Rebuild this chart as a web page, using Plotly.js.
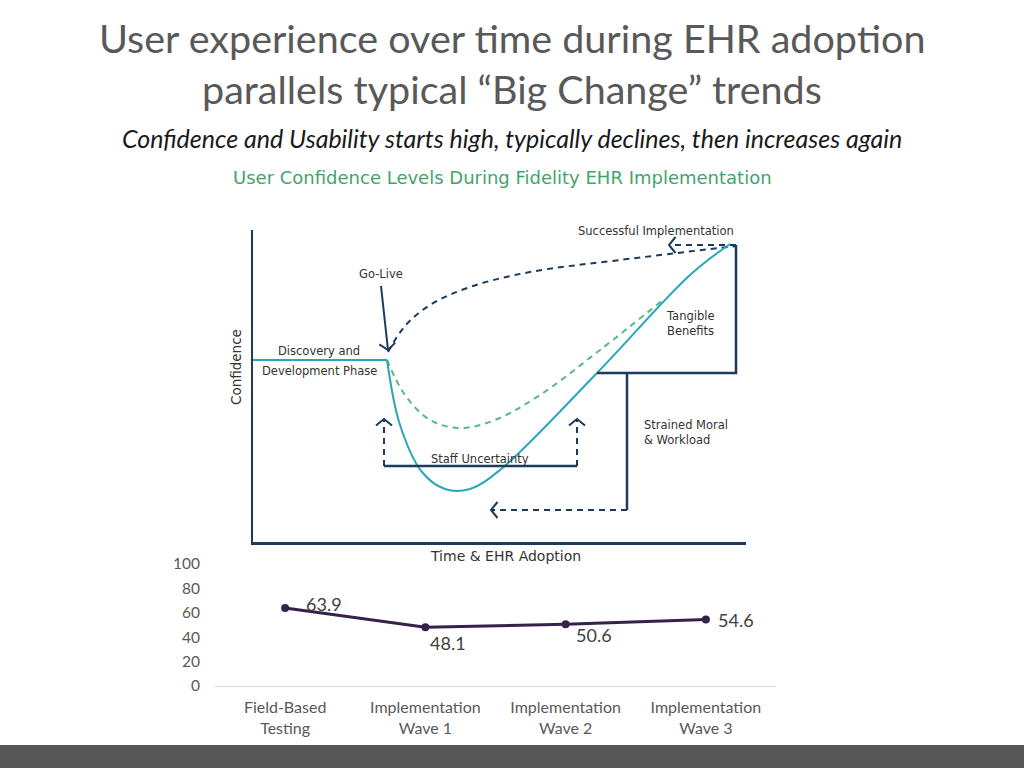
<!DOCTYPE html>
<html>
<head>
<meta charset="utf-8">
<script src="https://cdn.plot.ly/plotly-3.0.1.min.js"></script>
<style>
  html, body { margin: 0; padding: 0; background: #fff; }
  #chart { width: 1024px; height: 768px; }
</style>
</head>
<body>
<div id="chart"></div>
<script>
// Survey scores (bottom chart)
var categories = ["Field-Based Testing", "Implementation Wave 1", "Implementation Wave 2", "Implementation Wave 3"];
var scores = [63.9, 48.1, 50.6, 54.6];
var yTicks = [0, 20, 40, 60, 80, 100];

// Concept diagram curves (time units x, confidence units y)
var discoveryX = [0, 134];
var discoveryY = [182, 182];
var actualX = [134, 147, 169, 192, 217, 247, 344, 437, 477];
var actualY = [182, 117, 70, 53, 53, 72, 169, 267, 298];
var typicalX = [134, 152, 177, 207, 242, 287, 347, 410];
var typicalY = [182, 147, 122, 114, 122, 147, 192, 242];
var idealX = [135, 152, 177, 217, 277, 367, 483];
var idealY = [190, 216, 237, 255, 270, 282, 296];

var navy = "#1c3a5e", teal = "#2aa7b6", green = "#52bb80";

// arrows: [x0, y0, x1, y1, dashed]
var arrows = [
  [483, 297, 416, 297, true],
  [128, 256, 135, 192, false],
  [131, 76, 131, 123, true],
  [324, 76, 324, 123, true],
  [374, 32, 238, 32, true]
];
// plain solid connectors
var connectors = [
  [[131, 324], [76, 76]],
  [[344, 483, 483], [169, 169, 297]],
  [[374, 374], [169, 32]]
];

var traces = [];
function addLine(xs, ys, color, dash, width) {
  traces.push({x: xs, y: ys, xaxis: "x2", yaxis: "y2", mode: "lines", hoverinfo: "skip",
    line: {color: color, width: width || 2, dash: dash || "solid",
      shape: xs.length > 3 ? "spline" : "linear", smoothing: 1},
    cliponaxis: false});
}

addLine(discoveryX, discoveryY, teal);
addLine(idealX, idealY, navy, "6px,5px");
addLine(typicalX, typicalY, green, "6px,5px");
addLine(actualX, actualY, teal);

arrows.forEach(function (a) {
  addLine([a[0], a[2]], [a[1], a[3]], navy, a[4] ? "6px,5px" : "solid");
  var dx = a[2] - a[0], dy = a[3] - a[1], len = Math.sqrt(dx * dx + dy * dy);
  var ux = dx / len, uy = dy / len, back = 6.5, side = 8;
  addLine([a[2] - back * ux - side * uy, a[2], a[2] - back * ux + side * uy],
          [a[3] - back * uy + side * ux, a[3], a[3] - back * uy - side * ux], navy, "solid");
});
connectors.forEach(function (c) { addLine(c[0], c[1], navy, "solid", 2.5); });

// bottom line chart
traces.push({
  x: [0, 1, 2, 3], y: scores, xaxis: "x", yaxis: "y", mode: "lines+markers", hoverinfo: "skip",
  line: {color: "#35224a", width: 3}, marker: {color: "#35224a", size: 8}, cliponaxis: false
});

var labelShift = [[39, 4], [23, -16], [28, -11], [30, -1]];
var dfont = "DejaVu Sans, sans-serif";
var small = {family: dfont, size: 11.5, color: "#333"};
function paperNote(px, py, text, font, extra) {
  var a = {xref: "paper", yref: "paper", x: px / 1024, y: 1 - py / 768, xanchor: "center", yanchor: "middle",
    text: text, showarrow: false, font: font};
  for (var k in extra || {}) a[k] = extra[k];
  return a;
}
var annotations = [
  paperNote(512, 37, "User experience over time during EHR adoption", {family: "Lato, sans-serif", size: 39.5, color: "#595959"}),
  paperNote(512, 88, "parallels typical \u201cBig Change\u201d trends", {family: "Lato, sans-serif", size: 39.5, color: "#595959"}),
  paperNote(511.5, 138, "<i>Confidence and Usability starts high, typically declines, then increases again</i>",
    {family: "Lato, sans-serif", size: 25, color: "#1a1a1a"}),
  paperNote(502, 177, "User Confidence Levels During Fidelity EHR Implementation", {family: dfont, size: 18, color: "#3fa56b"}),
  paperNote(236, 367, "Confidence", {family: dfont, size: 13.5, color: "#333"}, {textangle: -90}),
  paperNote(505, 556, "Time & EHR Adoption", {family: dfont, size: 14, color: "#333"}),
  {xref: "x2", yref: "y2", x: 403, y: 311, text: "Successful Implementation", showarrow: false, font: small},
  {xref: "x2", yref: "y2", x: 128, y: 268, text: "Go-Live", showarrow: false, font: small},
  {xref: "x2", yref: "y2", x: 66, y: 191, text: "Discovery and", showarrow: false, font: small},
  {xref: "x2", yref: "y2", x: 66, y: 171, text: "Development Phase", showarrow: false, font: small},
  {xref: "x2", yref: "y2", x: 411, y: 219, xanchor: "left", align: "left", text: "Tangible<br>Benefits", showarrow: false, font: small},
  {xref: "x2", yref: "y2", x: 389, y: 110, xanchor: "left", align: "left", text: "Strained Moral<br>& Workload", showarrow: false, font: small},
  {xref: "x2", yref: "y2", x: 227, y: 83, text: "Staff Uncertainty", showarrow: false, font: small}
];
scores.forEach(function (v, i) {
  annotations.push({xref: "x", yref: "y", x: i, y: v, text: v.toFixed(1), showarrow: false,
    xshift: labelShift[i][0], yshift: labelShift[i][1], font: {family: "Lato, sans-serif", size: 18, color: "#404040"}});
});

var layout = {
  width: 1024, height: 768,
  margin: {l: 0, r: 0, t: 0, b: 0},
  paper_bgcolor: "#fff", plot_bgcolor: "rgba(0,0,0,0)",
  showlegend: false,
  xaxis: {domain: [215 / 1024, 776 / 1024], range: [-0.5, 3.5], tickvals: [0, 1, 2, 3],
    ticktext: categories.map(function (c) { return c.replace(" ", "<br>"); }),
    showgrid: false, zeroline: false, showline: true, linecolor: "#d9d9d9", linewidth: 1, ticks: "",
    ticklabelstandoff: 7, tickfont: {family: "Lato, sans-serif", size: 16, color: "#595959"}, fixedrange: true},
  yaxis: {domain: [1 - 686 / 768, 1 - 564 / 768], range: [0, 100], tickvals: yTicks,
    showgrid: false, zeroline: false, showline: false, ticks: "", ticklabelstandoff: 14,
    tickfont: {family: "Lato, sans-serif", size: 15.5, color: "#595959"}, fixedrange: true},
  xaxis2: {domain: [253 / 1024, 746 / 1024], range: [0, 493], anchor: "y2",
    showgrid: false, zeroline: false, showticklabels: false, ticks: "", showline: true, linecolor: navy, linewidth: 2.5},
  yaxis2: {domain: [1 - 542 / 768, 1 - 230 / 768], range: [0, 312], anchor: "x2",
    showgrid: false, zeroline: false, showticklabels: false, ticks: "", showline: true, linecolor: navy, linewidth: 2.5},
  shapes: [{type: "rect", xref: "paper", yref: "paper", x0: 0, x1: 1, y0: 0, y1: 1 - 745 / 768,
    fillcolor: "#575757", line: {width: 0}}],
  annotations: annotations
};

Plotly.newPlot("chart", traces, layout, {staticPlot: true});
</script>
</body>
</html>
